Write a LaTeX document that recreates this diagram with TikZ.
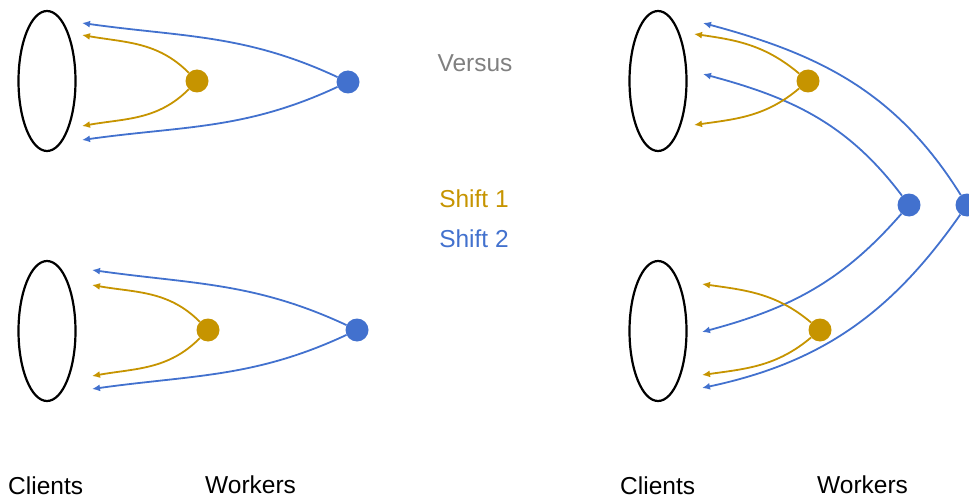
\documentclass[tikz,border=0pt]{standalone}
\usepackage{fontspec}
\setmainfont{Liberation Sans}
\usetikzlibrary{arrows.meta,shapes.geometric}
\definecolor{gold}{RGB}{198,148,0}
\definecolor{shiftblue}{RGB}{66,113,206}
\definecolor{versusgray}{RGB}{128,128,128}
\tikzset{
  client/.style={draw, ellipse, line width=2.2pt, minimum width=57pt, minimum height=140pt},
  worker/.style={circle, fill=#1, inner sep=0pt, minimum size=23pt},
  flow/.style={draw=#1, line width=1.8pt, -{Latex[length=8pt,width=7pt]}},
  txt/.style={font=\fontsize{24.5}{29}\selectfont, inner sep=0pt},
}
\begin{document}
\begin{tikzpicture}[x=1pt,y=1pt]
  \useasboundingbox (0,0) rectangle (969,499);

  % left: one worker of each shift per client group
  \node[client] (c1) at (47,418) {};
  \node[client] (c2) at (47,168) {};
  \coordinate (c1bu) at (82,476);
  \coordinate (c1au) at (82,464);
  \coordinate (c1ad) at (82,373);
  \coordinate (c1bd) at (82,359);
  \coordinate (c2bu) at (92,229);
  \coordinate (c2au) at (92,214);
  \coordinate (c2ad) at (92,123);
  \coordinate (c2bd) at (92,110);
  \node[worker=gold] (a1) at (197,418) {};
  \node[worker=shiftblue] (b1) at (348,417) {};
  \node[worker=gold] (a2) at (208,169) {};
  \node[worker=shiftblue] (b2) at (357,169) {};
  \draw[flow=shiftblue] (b1) to[out=155,in=-8] (c1bu);
  \draw[flow=shiftblue] (b1) to[out=-155,in=8] (c1bd);
  \draw[flow=gold] (a1) to[out=135,in=-10] (c1au);
  \draw[flow=gold] (a1) to[out=-135,in=10] (c1ad);
  \draw[flow=shiftblue] (b2) to[out=155,in=-8] (c2bu);
  \draw[flow=shiftblue] (b2) to[out=-155,in=8] (c2bd);
  \draw[flow=gold] (a2) to[out=135,in=-10] (c2au);
  \draw[flow=gold] (a2) to[out=-135,in=10] (c2ad);

  % right: shift 2 workers serve both groups
  \node[client] (c3) at (658,418) {};
  \node[client] (c4) at (658,168) {};
  \coordinate (c3bu) at (703,476);
  \coordinate (c3au) at (694,465);
  \coordinate (c3bd) at (703,425);
  \coordinate (c3ad) at (694,374);
  \coordinate (c4au) at (702,215);
  \coordinate (c4bu) at (702,167);
  \coordinate (c4ad) at (702,124);
  \coordinate (c4bd) at (702,111);
  \node[worker=gold] (a3) at (808,418) {};
  \node[worker=gold] (a4) at (820,169) {};
  \node[worker=shiftblue] (b3) at (909,294) {};
  \node[worker=shiftblue] (b4) at (967,294) {};
  \draw[flow=shiftblue] (b4) to[out=122,in=-15] (c3bu);
  \draw[flow=shiftblue] (b3) to[out=127,in=-15] (c3bd);
  \draw[flow=shiftblue] (b3) to[out=-131,in=15] (c4bu);
  \draw[flow=shiftblue] (b4) to[out=-125,in=12] (c4bd);
  \draw[flow=gold] (a3) to[out=140,in=-8] (c3au);
  \draw[flow=gold] (a3) to[out=-140,in=8] (c3ad);
  \draw[flow=gold] (a4) to[out=140,in=-8] (c4au);
  \draw[flow=gold] (a4) to[out=-140,in=8] (c4ad);

  % legend
  \node[txt, anchor=base, text=versusgray] (versus) at (475,427) {Versus};
  \node[txt, anchor=base, text=gold] (shift1) at (474,292) {Shift 1};
  \node[txt, anchor=base, text=shiftblue] (shift2) at (474,252) {Shift 2};

  % captions
  \node[txt, anchor=base west] (cl1) at (8,5) {Clients};
  \node[txt, anchor=base west] (wk1) at (205,6) {Workers};
  \node[txt, anchor=base west] (cl2) at (620,5) {Clients};
  \node[txt, anchor=base west] (wk2) at (817,6) {Workers};
\end{tikzpicture}
\end{document}
